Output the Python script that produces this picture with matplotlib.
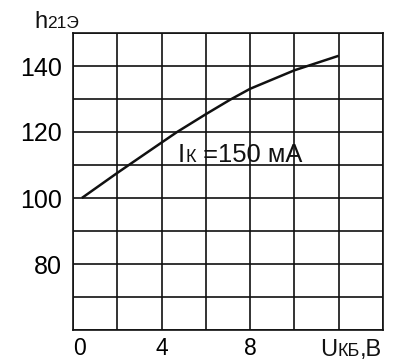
import numpy as np
import matplotlib
matplotlib.use('Agg')
import matplotlib.pyplot as plt

plt.rcParams['font.family'] = ['Liberation Sans', 'DejaVu Sans']

# значення
u_kb = [0.4, 2, 4, 4.7, 6, 7.1, 8, 10, 12]
h21e = [100, 107.6, 116.8, 120, 125.4, 129.8, 133.1, 138.7, 143.1]

x_ticks = [0, 4, 8]
x_tick_labels = ['0', '4', '8']
y_ticks = [80, 100, 120, 140]
y_tick_labels = ['80', '100', '120', '140']

W, H = 404, 360
fig = plt.figure(figsize=(W / 100, H / 100), dpi=100)
ax = fig.add_axes([73 / W, 30 / H, 310 / W, 297 / H])

ax.plot(u_kb, h21e, color='#111111', lw=1.8, solid_capstyle='butt')

ax.set_xlim(0, 14)
ax.set_ylim(60, 150)
ax.set_xticks(x_ticks)
ax.set_xticklabels(x_tick_labels)
ax.set_yticks(y_ticks)
ax.set_yticklabels(y_tick_labels)
ax.set_xticks(np.arange(0, 15, 2), minor=True)
ax.set_yticks(np.arange(60, 151, 10), minor=True)
ax.grid(which='both', color='#111111', lw=1.2)
ax.tick_params(which='both', length=0)
ax.tick_params(axis='y', labelsize=18, pad=8)
ax.tick_params(axis='x', labelsize=16.5, pad=5)
ax.xaxis.get_major_ticks()[0].label1.set_horizontalalignment('left')
for s in ax.spines.values():
    s.set_color('#111111')
    s.set_linewidth(1.2)


def mixed_text(x, y, parts):
    # текст з частинами різного розміру на одній базовій лінії (x, y в пікселях від лівого верхнього кута)
    renderer = fig.canvas.get_renderer()
    cur = x
    for s, size in parts:
        t = fig.text(cur / W, 1 - y / H, s, fontsize=size, va='baseline', ha='left', color='#111111')
        cur += t.get_window_extent(renderer).width


mixed_text(34, 28, [('h', 17), ('21Э', 12.5)])
mixed_text(178, 162, [('I', 18.4), ('К', 13), (' =150 мА', 18.4)])
mixed_text(320, 356, [('U', 17), ('КБ', 13), (',B', 17)])

fig.savefig('out.png', dpi=100)
